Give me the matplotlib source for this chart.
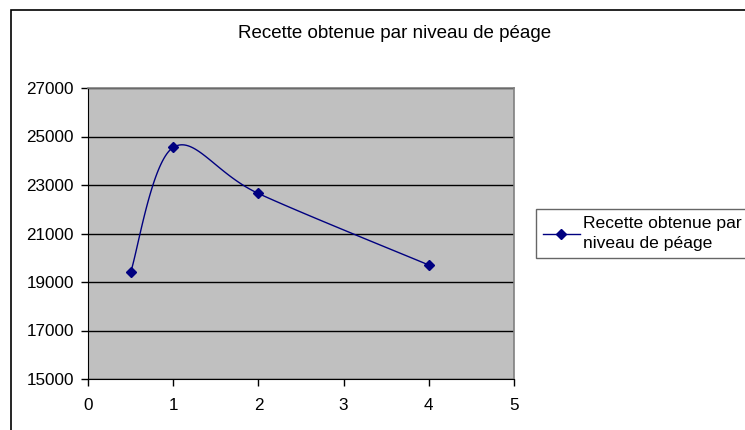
import numpy as np
import matplotlib.pyplot as plt
from matplotlib.patches import Rectangle
from matplotlib.lines import Line2D

plt.rcParams['font.family'] = ['Liberation Sans', 'DejaVu Sans']

# data
peage = [0.5, 1, 2, 4]
recette = [19400, 24550, 22650, 19700]
series_name = "Recette obtenue par\nniveau de péage"
title = "Recette obtenue par niveau de péage"
line_color = '#000080'


def excel_smooth(x, y, n=40):
    # Catmull-Rom style bezier, similar to Excel's smoothed line
    x = np.asarray(x, float)
    y = np.asarray(y, float)
    px = np.concatenate([[x[0]], x, [x[-1]]])
    py = np.concatenate([[y[0]], y, [y[-1]]])
    t = np.linspace(0, 1, n)
    xs, ys = [], []
    for i in range(1, len(px) - 2):
        p0 = np.array([px[i], py[i]])
        p3 = np.array([px[i + 1], py[i + 1]])
        c1 = p0 + (np.array([px[i + 1], py[i + 1]]) - np.array([px[i - 1], py[i - 1]])) / 6
        c2 = p3 - (np.array([px[i + 2], py[i + 2]]) - np.array([px[i], py[i]])) / 6
        b = ((1 - t) ** 3)[:, None] * p0 + (3 * (1 - t) ** 2 * t)[:, None] * c1 \
            + (3 * (1 - t) * t ** 2)[:, None] * c2 + (t ** 3)[:, None] * p3
        xs.extend(b[:, 0])
        ys.extend(b[:, 1])
    return xs, ys


W, H = 745, 430
fig = plt.figure(figsize=(W / 100, H / 100), dpi=100)
fig.patch.set_facecolor('white')

# outer chart border (runs off the right and bottom of the picture)
fig.add_artist(Rectangle((11 / W, -0.1), 1.2, 1.1 - 10 / H, transform=fig.transFigure,
                         fill=False, edgecolor='black', linewidth=1.2))

ax = fig.add_axes([88 / W, 1 - 379 / H, (514 - 88) / W, (379 - 88) / H])
ax.set_facecolor('#c0c0c0')

sx, sy = excel_smooth(peage, recette)
ax.plot(sx, sy, color=line_color, linewidth=1.0, zorder=3)
ax.plot(peage, recette, linestyle='none', marker='D', markersize=5.5,
        color=line_color, zorder=4)

ax.set_xlim(0, 5)
ax.set_ylim(15000, 27000)
ax.set_xticks(range(0, 6))
ax.set_yticks(range(15000, 27001, 2000))
ax.yaxis.grid(True, color='black', linewidth=1)
ax.set_axisbelow(True)
ax.tick_params(axis='both', direction='out', length=5, width=1, labelsize=12.3,
               colors='black')
ax.tick_params(axis='x', pad=9)
ax.tick_params(axis='y', pad=5)
for side in ['top', 'right']:
    ax.spines[side].set_color('#808080')
    ax.spines[side].set_linewidth(1.2)
for side in ['left', 'bottom']:
    ax.spines[side].set_color('black')

fig.text(395 / W, 1 - 33 / H, title, ha='center', va='center', fontsize=13.5)

handle = Line2D([], [], color=line_color, marker='D', markersize=5, linewidth=1.0)
leg = fig.legend([handle], [series_name], loc='upper left',
                 bbox_to_anchor=(536 / W, 1 - 209 / H), fontsize=12.6,
                 frameon=True, fancybox=False, borderpad=0.4, handlelength=2.1,
                 handletextpad=0.2, borderaxespad=0)
leg.get_texts()[0].set_linespacing(1.45)
leg.get_frame().set_edgecolor('#404040')
leg.get_frame().set_linewidth(1)

fig.savefig('out.png', dpi=100)
